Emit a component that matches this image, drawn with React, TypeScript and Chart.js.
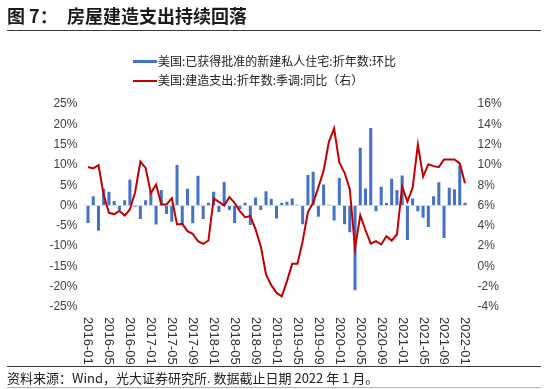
import React, { useEffect, useRef } from "react";
import { Chart, registerables } from "chart.js";
Chart.register(...registerables);

const months = [
  "2016-01","2016-02","2016-03","2016-04","2016-05","2016-06","2016-07","2016-08","2016-09","2016-10","2016-11","2016-12",
  "2017-01","2017-02","2017-03","2017-04","2017-05","2017-06","2017-07","2017-08","2017-09","2017-10","2017-11","2017-12",
  "2018-01","2018-02","2018-03","2018-04","2018-05","2018-06","2018-07","2018-08","2018-09","2018-10","2018-11","2018-12",
  "2019-01","2019-02","2019-03","2019-04","2019-05","2019-06","2019-07","2019-08","2019-09","2019-10","2019-11","2019-12",
  "2020-01","2020-02","2020-03","2020-04","2020-05","2020-06","2020-07","2020-08","2020-09","2020-10","2020-11","2020-12",
  "2021-01","2021-02","2021-03","2021-04","2021-05","2021-06","2021-07","2021-08","2021-09","2021-10","2021-11","2021-12",
  "2022-01",
];

// 美国:已获得批准的新建私人住宅:折年数:环比 (%), left axis
const permitsMoM = [
  -4.3, 2.3, -6.2, 4.1, 3.4, 1.1, -1.2, 1.3, 6.4, -0.3,
  -3.3, 1.3, 3.5, -4.7, 3.8, -2.1, -4.0, 10.0, -4.7, 4.1,
  -4.4, 7.3, -3.3, 0.7, 3.4, -1.6, 5.8, -1.1, -4.3, -0.9,
  0.7, -4.8, 2.0, -1.1, 3.5, 1.6, -3.2, 0.7, 0.9, 1.7,
  0.2, -4.6, 7.5, 8.3, -2.8, 5.2, 0.2, -3.7, 6.8, -4.6,
  -6.6, -20.9, 14.2, 4.2, 19.1, -1.4, 4.6, 0.6, 6.6, 3.8,
  7.4, -8.5, 1.7, -1.4, -3.0, -5.3, 2.3, 5.7, -8.0, 4.4,
  4.0, 9.9, 0.7,
];

// 美国:建造支出:折年数:季调:同比 (%), right axis
const constructionYoY = [
  9.8, 9.65, 9.97, 7.0, 5.28, 5.15, 5.47, 5.01, 5.61, 7.31,
  10.33, 9.71, 7.22, 8.07, 6.1, 6.1, 6.72, 4.13, 4.19, 3.47,
  3.21, 2.49, 2.22, 2.55, 6.69, 6.36, 6.0, 6.82, 6.26, 5.44,
  4.85, 4.95, 3.64, 1.99, -0.8, -1.85, -2.6, -2.95, -1.45, 0.25,
  0.25, 2.49, 5.35, 6.26, 7.8, 9.45, 12.25, 13.6, 10.25, 9.22,
  7.6, 1.75, 5.03, 3.56, 2.24, 2.49, 2.16, 2.98, 2.55, 3.14,
  7.87, 6.38, 7.74, 12.0, 8.85, 10.07, 9.88, 9.78, 10.53, 10.53,
  10.53, 10.15, 8.2,
];

const leftMin = -25;
const leftMax = 25;
const leftStep = 5;
const rightMin = -4;
const rightMax = 16;
const rightStep = 2;
const labelEvery = 4;

const barLabel = "美国:已获得批准的新建私人住宅:折年数:环比";
const lineLabel = "美国:建造支出:折年数:季调:同比（右）";

const BLUE = "#4472C4";
const RED = "#C00000";
const LATIN = '"Liberation Sans", Arial, sans-serif';
const CJK = '"Noto Sans CJK SC", "Noto Sans", sans-serif';

export default function App() {
  const ref = useRef<HTMLCanvasElement>(null);

  useEffect(() => {
    if (!ref.current) return;
    const xLabelPlugin = {
      id: "xLabelsDown",
      afterDraw(chart: any) {
        const { ctx } = chart;
        const x = chart.scales.x;
        ctx.save();
        ctx.font = `13px ${LATIN}`;
        ctx.fillStyle = "#333333";
        ctx.textAlign = "left";
        ctx.textBaseline = "middle";
        months.forEach((m, i) => {
          if (i % labelEvery !== 0) return;
          const px = x.getPixelForValue(i);
          ctx.save();
          ctx.translate(px, x.top + 10);
          ctx.rotate(Math.PI / 2);
          ctx.fillText(m, 0, 0);
          ctx.restore();
        });
        ctx.restore();
      },
    };

    const tickFont = { size: 12, family: LATIN };
    const chart = new Chart(ref.current, {
      type: "bar",
      data: {
        labels: months,
        datasets: [
          {
            type: "line",
            label: lineLabel,
            data: constructionYoY,
            yAxisID: "y1",
            borderColor: RED,
            backgroundColor: RED,
            borderWidth: 2,
            pointRadius: 0,
            tension: 0,
            order: 0,
          } as any,
          {
            type: "bar",
            label: barLabel,
            data: permitsMoM,
            yAxisID: "y",
            backgroundColor: BLUE,
            barPercentage: 0.58,
            categoryPercentage: 1,
            order: 1,
          } as any,
        ],
      },
      options: {
        responsive: false,
        animation: false,
        layout: { padding: { top: 104, left: 0, right: 0, bottom: 0 } },
        plugins: { legend: { display: false }, tooltip: { enabled: false } },
        scales: {
          x: {
            ticks: { display: false },
            grid: { display: false },
            border: { display: false },
            afterFit(s: any) {
              s.height = 82;
            },
          },
          y: {
            position: "left",
            min: leftMin,
            max: leftMax,
            ticks: {
              stepSize: leftStep,
              callback: (v: any) => `${v}%`,
              padding: 8,
              color: "#404040",
              font: tickFont,
            },
            grid: {
              drawTicks: false,
              color: (c: any) => (c.tick && c.tick.value === 0 ? "#d9d9d9" : "rgba(0,0,0,0)"),
            },
            border: { display: false },
            afterFit(s: any) {
              s.width = 85.4;
            },
          },
          y1: {
            position: "right",
            min: rightMin,
            max: rightMax,
            ticks: {
              stepSize: rightStep,
              callback: (v: any) => `${v}%`,
              padding: 10,
              color: "#404040",
              font: tickFont,
            },
            grid: { display: false, drawTicks: false },
            border: { display: false },
            afterFit(s: any) {
              s.width = 82.4;
            },
          },
        },
      } as any,
      plugins: [xLabelPlugin],
    });
    return () => chart.destroy();
  }, []);

  const abs = (o: React.CSSProperties): React.CSSProperties => ({ position: "absolute", ...o });

  return (
    <div style={abs({ left: 0, top: 0, width: 550, height: 389, background: "#fff", overflow: "hidden" })}>
      <canvas ref={ref} width={550} height={389} style={abs({ left: 0, top: 0, width: 550, height: 389 })} />
      <div style={abs({ left: 7, top: 4, fontFamily: CJK, fontWeight: 700, fontSize: 18, lineHeight: "22px", color: "#1a1a1a", whiteSpace: "nowrap" })}>
        图 7：
      </div>
      <div style={abs({ left: 67, top: 4, fontFamily: CJK, fontWeight: 700, fontSize: 18, lineHeight: "22px", color: "#1a1a1a", whiteSpace: "nowrap" })}>
        房屋建造支出持续回落
      </div>
      <div style={abs({ left: 7, top: 30, width: 534, height: 0, borderTop: "1.5px solid #3a3a3a" })} />

      <div style={abs({ left: 133, top: 60, width: 24, height: 3, background: BLUE })} />
      <div style={abs({ left: 158, top: 52, fontFamily: CJK, fontSize: 12, lineHeight: "18px", color: "#222", whiteSpace: "nowrap" })}>
        {barLabel}
      </div>
      <div style={abs({ left: 133, top: 79.5, width: 24, height: 2, background: RED })} />
      <div style={abs({ left: 158, top: 71, fontFamily: CJK, fontSize: 12, lineHeight: "18px", color: "#222", whiteSpace: "nowrap" })}>
        {lineLabel}
      </div>

      <div style={abs({ left: 7, top: 366, width: 534, height: 0, borderTop: "1.5px solid #3a3a3a" })} />
      <div style={abs({ left: 7, top: 369, fontFamily: CJK, fontSize: 13, lineHeight: "18px", color: "#222", whiteSpace: "nowrap" })}>
        资料来源：Wind，光大证券研究所. 数据截止日期 2022 年 1 月。
      </div>
      <div style={abs({ left: 7, top: 387, width: 534, height: 0, borderTop: "1px solid #b0b0b0" })} />
    </div>
  );
}
